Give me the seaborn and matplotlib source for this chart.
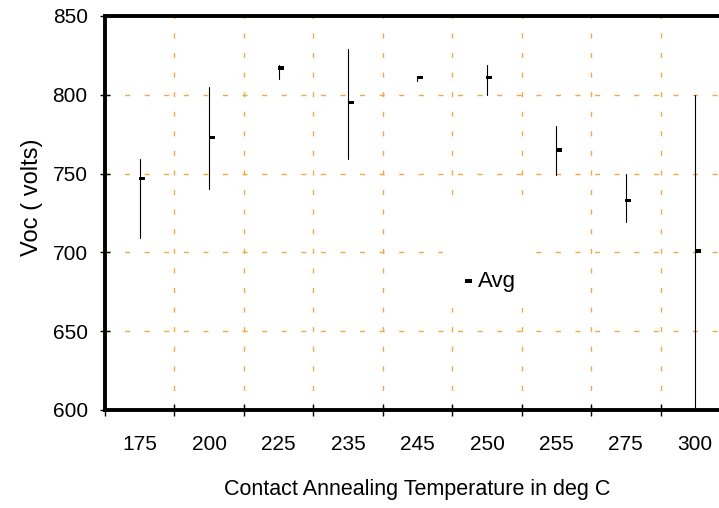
import numpy as np
import pandas as pd
import matplotlib
matplotlib.use("Agg")
import matplotlib.pyplot as plt
from matplotlib.ticker import NullFormatter
from matplotlib.patches import Rectangle
import seaborn as sns

# ---- data ----
temps = ["175", "200", "225", "235", "245", "250", "255", "275", "300"]
high = [759, 805, 819, 829, 812, 819, 780, 750, 800]
low = [709, 740, 810, 759, 809, 800, 749, 719, 600]
avg = [747, 773, 817, 795, 811, 811, 765, 733, 701]
yticks = [600, 650, 700, 750, 800, 850]
xlabel = "Contact Annealing Temperature in deg C"
ylabel = "Voc ( volts)"
legend_label = "Avg"

sns.set_style("white")
plt.rcParams["font.family"] = ["Liberation Sans", "DejaVu Sans"]
plt.rcParams["lines.scale_dashes"] = False
plt.rcParams["text.color"] = "black"
plt.rcParams["axes.labelcolor"] = "black"

ranges = pd.DataFrame({"temp": temps + temps, "voc": high + low})
avgdf = pd.DataFrame({"temp": temps, "voc": avg})

fig = plt.figure(figsize=(7.19, 5.08), dpi=100)
ax = fig.add_axes([105 / 719, 98 / 508, 625 / 719, 394 / 508])

sns.lineplot(data=ranges, x="temp", y="voc", units="temp", estimator=None,
             color="black", linewidth=0.8, ax=ax, zorder=2)

box_marker = [(-0.1, -0.32), (1.0, -0.32), (1.0, 0.32), (-0.1, 0.32)]
sns.scatterplot(data=avgdf, x="temp", y="voc", marker=box_marker, s=62,
                color="black", edgecolor="none", linewidth=0,
                label=legend_label, legend=False, ax=ax, zorder=3)

ax.set_xlim(-0.5, 8.5)
ax.set_ylim(600, 850)
ax.set_yticks(yticks)

ax.set_xticks(np.arange(-0.5, 9, 1))
ax.xaxis.set_major_formatter(NullFormatter())
ax.set_xticks(range(len(temps)), minor=True)
ax.set_xticklabels(temps, minor=True)

ax.tick_params(axis="x", which="major", bottom=True, direction="inout",
               length=9, width=1, color="black")
ax.tick_params(axis="x", which="minor", bottom=True, length=0, pad=18,
               labelsize=15, labelcolor="black")
ax.tick_params(axis="y", which="major", left=True, direction="inout",
               length=7, width=1, color="black", pad=9,
               labelsize=15, labelcolor="black")

for s in ["left", "top", "bottom", "right"]:
    ax.spines[s].set_linewidth(2.8)
    ax.spines[s].set_color("black")

ax.set_axisbelow(True)
ax.grid(True, which="major", axis="both", color="#F5A840",
        linestyle=(0, (3.6, 10.5)), linewidth=1.0)

ax.add_patch(Rectangle((0.541, 0.259), 0.144, 0.261, transform=ax.transAxes,
                       facecolor="white", edgecolor="none", zorder=1))

ax.legend(loc="center left", bbox_to_anchor=(0.567, 0.326), frameon=False,
          fontsize=16, handlelength=0.55, handletextpad=0.3, borderpad=0,
          borderaxespad=0, scatterpoints=1, markerscale=1.15)

ax.set_xlabel(xlabel, fontsize=15.5)
ax.xaxis.set_label_coords(0.5, -0.175)
ax.set_ylabel(ylabel, fontsize=17)
ax.yaxis.set_label_coords(-0.099, 0.541)

fig.savefig("out.png", dpi=100)
